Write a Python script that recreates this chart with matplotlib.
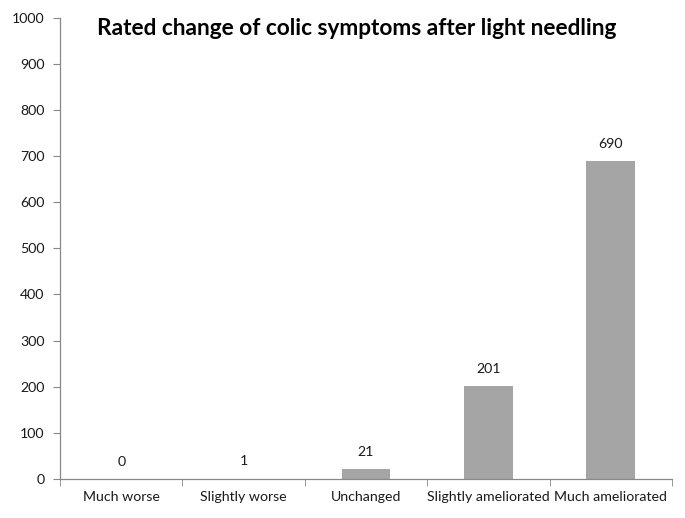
import numpy as np
import matplotlib.pyplot as plt

categories = ['Much worse', 'Slightly worse', 'Unchanged', 'Slightly ameliorated', 'Much ameliorated']
counts = [0, 1, 21, 201, 690]

plt.rcParams['font.family'] = ['Lato', 'DejaVu Sans']

fig = plt.figure(figsize=(6.85, 5.18), dpi=100)
ax = fig.add_axes([0.0876, 0.0753, 0.8934, 0.8905])

x = np.arange(len(categories))
bars = ax.bar(x, counts, width=0.4, color='#a5a5a5', zorder=2)

# value labels above each bar
for xi, v in zip(x, counts):
    ax.annotate(str(v), (xi, v), xytext=(0, 8), textcoords='offset points',
                ha='center', va='bottom', fontsize=10.2, color='#1a1a1a')

ax.set_xlim(-0.5, len(categories) - 0.5)
ax.set_ylim(0, 1000)
ax.set_yticks(np.arange(0, 1001, 100))
ax.set_xticks(x)
ax.set_xticklabels(categories, fontsize=10.2, color='#1a1a1a')
ax.set_xticks(np.arange(-0.5, len(categories)), minor=True)
ax.tick_params(axis='x', which='major', length=0, pad=9)
ax.tick_params(axis='x', which='minor', length=5, color='#888888')
ax.tick_params(axis='y', length=5, color='#888888', labelsize=10.2, labelcolor='#1a1a1a', pad=6)

for s in ['top', 'right']:
    ax.spines[s].set_visible(False)
for s in ['left', 'bottom']:
    ax.spines[s].set_color('#888888')
    ax.spines[s].set_linewidth(0.9)

fig.text(0.521, 0.945, 'Rated change of colic symptoms after light needling',
         ha='center', va='center', fontsize=16.3, fontweight='bold', color='black')

fig.savefig('out.png', dpi=100)
